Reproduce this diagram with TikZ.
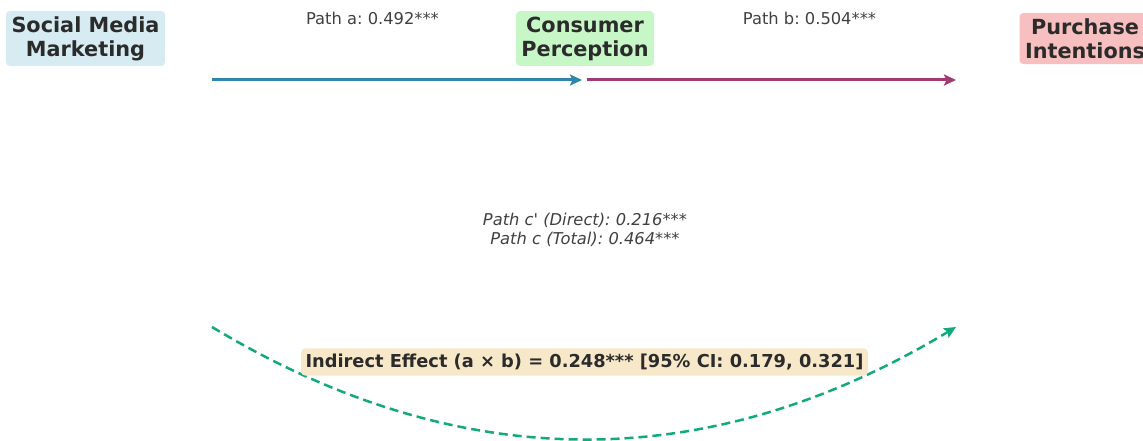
\documentclass[tikz,border=0pt]{standalone}
\usepackage{fontspec}
\setmainfont{DejaVu Sans}[Ligatures=TeXOff]
\usetikzlibrary{arrows.meta}

\definecolor{txtdark}{HTML}{2B2B2B}
\definecolor{smmfill}{HTML}{D6EBF2}
\definecolor{cpfill}{HTML}{C7F6C7}
\definecolor{pifill}{HTML}{F7BFBF}
\definecolor{indfill}{HTML}{F8E8CA}
\definecolor{patha}{HTML}{2E86AB}
\definecolor{pathb}{HTML}{A23B72}
\definecolor{pathc}{HTML}{12A97C}

\tikzset{
  varbox/.style={rounded corners=4pt, align=center, inner xsep=5.5pt, inner ysep=5.5pt,
    text=txtdark, font=\fontsize{20.8}{24}\selectfont\bfseries},
  pathlabel/.style={text=txtdark!90, font=\fontsize{16.3}{18.5}\selectfont},
  patharrow/.style={line width=3pt, -{Stealth[length=12pt, width=11pt, inset=2.5pt]}}
}

\begin{document}
\frenchspacing
\begin{tikzpicture}[x=1pt,y=1pt]
\useasboundingbox (0,0) rectangle (1143,440);
% variables
\node[varbox, fill=smmfill] (smm) at (85.5,401.5) {Social Media\\Marketing};
\node[varbox, fill=cpfill] (cp) at (585,401.5) {Consumer\\Perception};
\node[varbox, fill=pifill] (pi) at (1085,401.5) {Purchase\\Intentions};
% arrow ends
\coordinate (a start) at (212,360);
\coordinate (a end) at (582,360);
\coordinate (b start) at (587,360);
\coordinate (b end) at (956,360);
\coordinate (c start) at (212,113);
\coordinate (c end) at (956,113);
% paths a and b
\draw[patharrow, patha] (a start) -- (a end);
\draw[patharrow, pathb] (b start) -- (b end);
\node[pathlabel] (alabel) at (372.5,422) {Path a: 0.492***};
\node[pathlabel] (blabel) at (809.5,422) {Path b: 0.504***};
% direct and total effect
\node[pathlabel, align=center, font=\fontsize{16.3}{18.5}\selectfont\itshape] (clabel) at (585,210)
  {Path c' (Direct): 0.216***\\Path c (Total): 0.464***};
% indirect path
\draw[pathc, line width=2.5pt, dash pattern=on 9pt off 5pt,
  -{Stealth[length=12pt, width=11pt, inset=2.5pt]}]
  (c start) .. controls (460,-36.3) and (708,-36.3) .. (c end);
\node[rounded corners=4pt, fill=indfill, text=txtdark, inner xsep=4.5pt, inner ysep=5.5pt,
  font=\fontsize{17.8}{20}\selectfont\bfseries] (ind) at (584.5,78)
  {Indirect Effect (a × b) = 0.248*** [95\% CI: 0.179, 0.321]};
\end{tikzpicture}
\end{document}
